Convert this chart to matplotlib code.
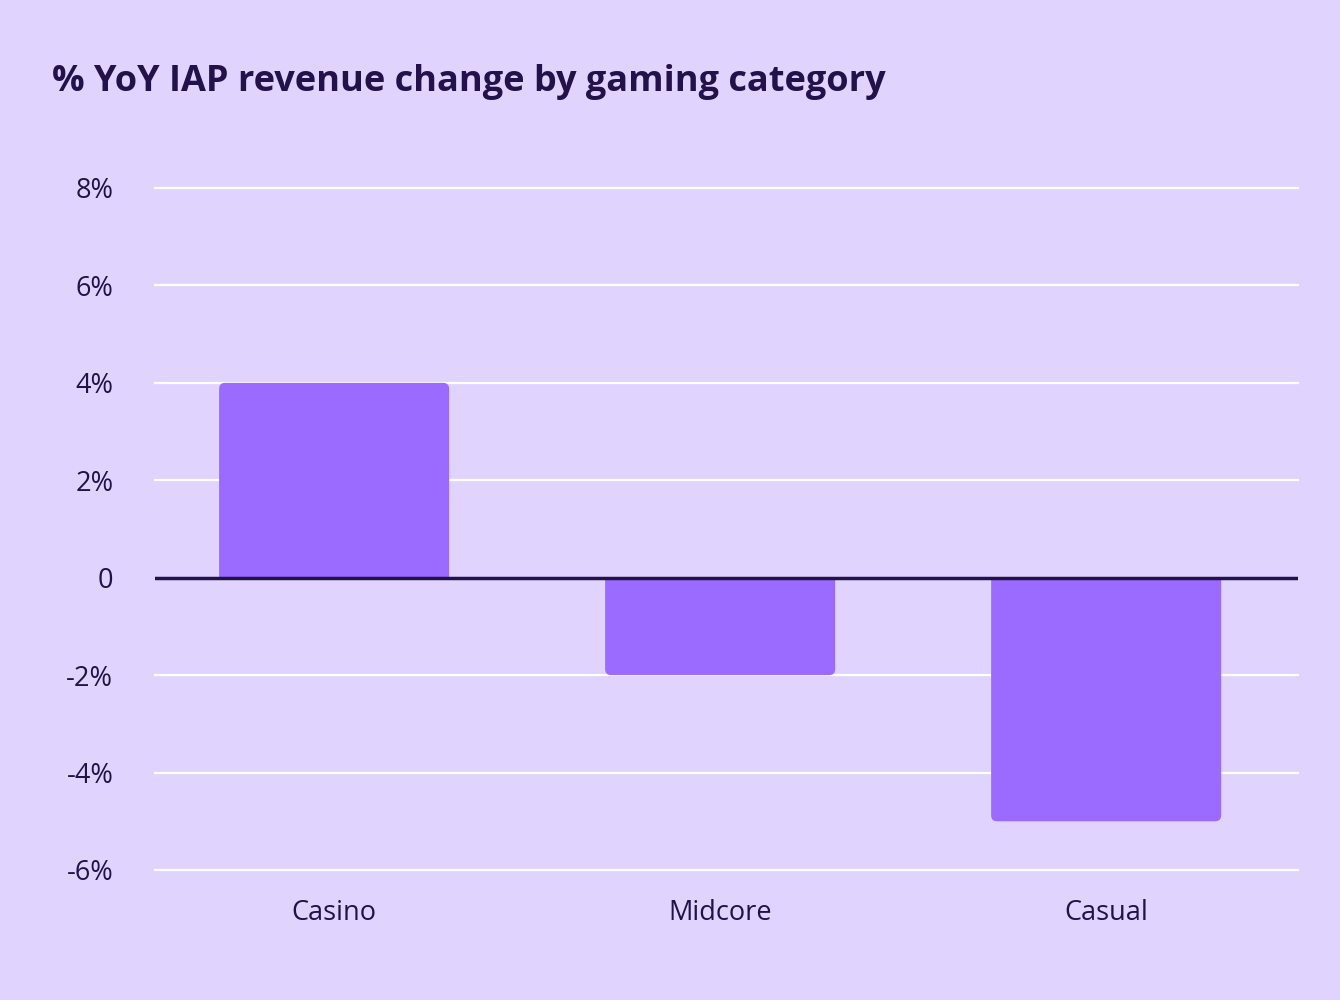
import numpy as np
import matplotlib.pyplot as plt
from matplotlib.path import Path
from matplotlib.patches import PathPatch

categories = ['Casino', 'Midcore', 'Casual']
values = [4, -2, -5]
yticks = [-6, -4, -2, 0, 2, 4, 6, 8]
ytick_labels = ['-6%', '-4%', '-2%', '0', '2%', '4%', '6%', '8%']

bg = '#E0D4FE'
bar_color = '#9B6BFF'
text_color = '#22114A'

plt.rcParams['font.family'] = ['Open Sans', 'DejaVu Sans']

fig = plt.figure(figsize=(13.4, 10), dpi=100, facecolor=bg)
ax = fig.add_axes([155 / 1340, 1 - 870 / 1000, (1298 - 155) / 1340, (870 - 188) / 1000])
ax.set_facecolor(bg)

ax.set_xlim(-0.464, 2.497)
ax.set_ylim(-6, 8)

width = 0.596
# corner radius in data units (~6 px)
rx = 6 / 386
ry = 6 / 48.7


def rounded_bar(x, h):
    x0, x1 = x - width / 2, x + width / 2
    s = 1 if h >= 0 else -1
    verts = [
        (x0, 0),
        (x0, h - s * ry),
        (x0, h), (x0 + rx, h),
        (x1 - rx, h),
        (x1, h), (x1, h - s * ry),
        (x1, 0),
        (x0, 0),
    ]
    codes = [Path.MOVETO, Path.LINETO, Path.CURVE3, Path.CURVE3, Path.LINETO,
             Path.CURVE3, Path.CURVE3, Path.LINETO, Path.CLOSEPOLY]
    return PathPatch(Path(verts, codes), facecolor=bar_color, edgecolor='none', zorder=3)


for t in yticks:
    if t != 0:
        ax.axhline(t, color='white', linewidth=1.6, zorder=1, clip_on=False)

for i, v in enumerate(values):
    ax.add_patch(rounded_bar(i, v))

ax.axhline(0, color=text_color, linewidth=2.5, zorder=4)

for s in ax.spines.values():
    s.set_visible(False)

ax.set_yticks(yticks)
ax.set_yticklabels(ytick_labels)
ax.set_xticks(range(len(categories)))
ax.set_xticklabels(categories)
ax.tick_params(axis='y', length=0, pad=30, labelsize=19.5, labelcolor=text_color)
ax.tick_params(axis='x', length=0, pad=21, labelsize=19.5, labelcolor=text_color)

fig.text(52 / 1340, 0.918, '% YoY IAP revenue change by gaming category',
         fontsize=26, fontweight='bold', color=text_color, va='center', ha='left')

fig.savefig('out.png', dpi=100, facecolor=bg)
